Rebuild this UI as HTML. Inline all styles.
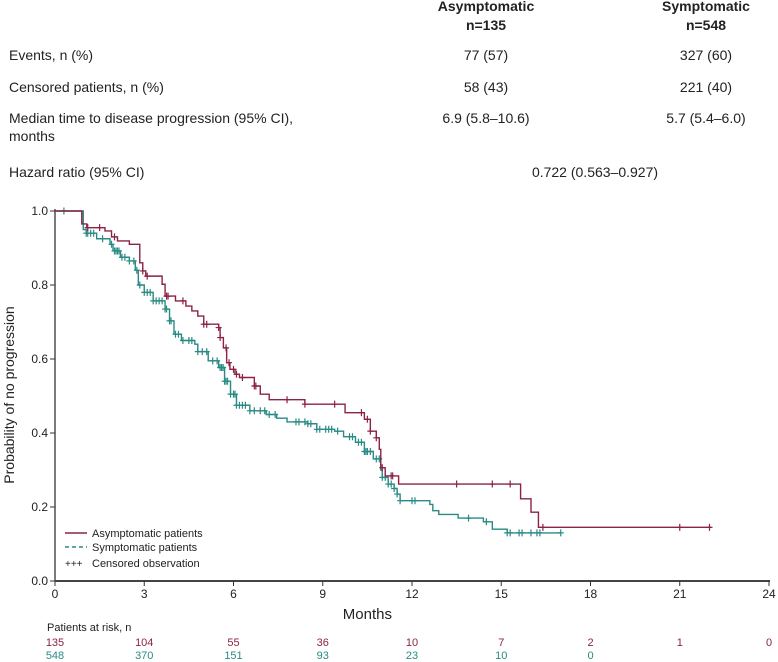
<!DOCTYPE html>
<html><head><meta charset="utf-8"><style>
body{margin:0;background:#fff;width:778px;height:662px;overflow:hidden;font-family:"Liberation Sans",sans-serif;}
svg{display:block}
</style></head><body>
<svg id="chart" width="778" height="662" xmlns="http://www.w3.org/2000/svg" font-family="Liberation Sans, sans-serif">
<g font-size="14" fill="#222">
<text x="486" y="11" text-anchor="middle" font-weight="bold">Asymptomatic</text>
<text x="486" y="30" text-anchor="middle" font-weight="bold">n=135</text>
<text x="706" y="11" text-anchor="middle" font-weight="bold">Symptomatic</text>
<text x="706" y="30" text-anchor="middle" font-weight="bold">n=548</text>
<text x="9" y="60">Events, n (%)</text>
<text x="486" y="60" text-anchor="middle">77 (57)</text>
<text x="706" y="60" text-anchor="middle">327 (60)</text>
<text x="9" y="92">Censored patients, n (%)</text>
<text x="486" y="92" text-anchor="middle">58 (43)</text>
<text x="706" y="92" text-anchor="middle">221 (40)</text>
<text x="9" y="123">Median time to disease progression (95% CI),</text>
<text x="9" y="141">months</text>
<text x="486" y="123" text-anchor="middle">6.9 (5.8–10.6)</text>
<text x="706" y="123" text-anchor="middle">5.7 (5.4–6.0)</text>
<text x="9" y="177">Hazard ratio (95% CI)</text>
<text x="595" y="177" text-anchor="middle">0.722 (0.563–0.927)</text>
</g>
<g id="axes"></g>
<g id="series"></g>
<g font-size="11" fill="#222">
<line x1="65" y1="533" x2="87" y2="533" stroke="#8b2346" stroke-width="1.5"/>
<text x="92" y="537">Asymptomatic patients</text>
<line x1="65" y1="547" x2="87" y2="547" stroke="#2a8a84" stroke-width="1.5" stroke-dasharray="4,3"/>
<text x="92" y="551">Symptomatic patients</text>
<text x="65" y="567" font-size="10">+++</text>
<text x="92" y="567">Censored observation</text>
</g>
<text x="205" y="619" font-size="15" fill="#222" text-anchor="middle" id="xtitle">Months</text>
<text transform="translate(14,395) rotate(-90)" font-size="14" fill="#222" text-anchor="middle">Probability of no progression</text>
<text x="47" y="631" font-size="11" fill="#222">Patients at risk, n</text>
<g id="risk" font-size="11"></g>
</svg>
<script>
const xTicks=[0,3,6,9,12,15,18,21,24];
const yTicks=[0,0.2,0.4,0.6,0.8,1.0];
const asymTimes=[0,0.9,1.07,1.68,1.9,2.1,2.5,2.85,2.95,3.05,3.6,3.7,4.05,4.4,4.6,4.8,5.0,5.5,5.55,5.66,5.77,5.88,6.05,6.2,6.7,6.9,7.2,8.4,9.75,10.4,10.6,10.8,10.9,10.95,11.1,11.55,15.65,16.0,16.25];
const asymSurv=[1,0.965,0.955,0.946,0.93,0.919,0.91,0.86,0.838,0.824,0.802,0.77,0.757,0.743,0.73,0.716,0.694,0.685,0.658,0.63,0.59,0.572,0.559,0.55,0.527,0.505,0.49,0.478,0.455,0.437,0.405,0.387,0.356,0.306,0.284,0.262,0.222,0.186,0.145];
const asymEnd=22.05;
const asymCensor=[1.1,1.5,2.0,2.95,3.1,3.75,3.8,4.3,5.0,5.1,5.5,5.55,5.75,5.85,6.0,6.1,6.3,6.7,6.75,7.8,8.4,9.4,10.3,10.5,10.6,10.8,11.0,11.3,11.35,13.5,14.7,15.3,16.4,21.0,22.0];
const symTimes=[0,0.95,1.05,1.4,1.85,1.95,2.2,2.5,2.7,2.8,3.0,3.3,3.7,3.85,4.0,4.25,4.7,4.8,5.15,5.5,5.7,5.9,6.1,6.55,7.1,7.45,7.8,8.5,8.8,9.4,9.7,10.1,10.4,10.7,10.95,11.0,11.2,11.4,11.5,11.6,12.6,12.7,12.9,13.55,14.4,14.7,15.2];
const symSurv=[1,0.95,0.94,0.925,0.91,0.892,0.875,0.865,0.84,0.80,0.78,0.757,0.735,0.703,0.667,0.65,0.64,0.62,0.595,0.577,0.54,0.505,0.475,0.46,0.45,0.44,0.43,0.425,0.41,0.405,0.39,0.375,0.35,0.33,0.3,0.28,0.262,0.25,0.235,0.217,0.207,0.19,0.18,0.17,0.16,0.14,0.13];
const symEnd=17.0;
const symCensor=[0.3,1.05,1.1,1.2,1.3,1.6,1.9,2.0,2.05,2.1,2.15,2.25,2.35,2.5,2.65,2.75,2.85,3.0,3.1,3.2,3.3,3.4,3.5,3.6,3.7,3.75,3.85,3.9,4.05,4.15,4.3,4.5,4.6,4.8,4.95,5.1,5.3,5.45,5.55,5.6,5.65,5.7,5.75,5.8,5.9,6.0,6.05,6.1,6.2,6.3,6.4,6.55,6.7,6.9,7.05,7.2,7.4,8.1,8.2,8.4,8.5,8.6,8.8,8.9,9.1,9.2,9.3,9.5,9.9,10.0,10.2,10.3,10.4,10.45,10.5,10.6,10.8,10.9,11.0,11.1,11.2,11.3,11.4,11.5,11.6,12.0,12.1,13.9,14.5,15.2,15.3,15.6,15.7,16.0,16.2,16.3,17.0];
const riskTimes=[0,3,6,9,12,15,18,21,24];
const riskAsym=[135,104,55,36,10,7,2,1,0];
const riskSym=[548,370,151,93,23,10,0];
const NS="http://www.w3.org/2000/svg";
const X0=55,XS=29.75,Y0=581,YS=370;
function sx(t){return X0+t*XS;}
function sy(p){return Y0-p*YS;}
function mk(tag,attrs,parent){const e=document.createElementNS(NS,tag);for(const k in attrs)e.setAttribute(k,attrs[k]);parent.appendChild(e);return e;}
const axes=document.getElementById('axes');
let l=mk('line',{x1:X0,y1:sy(1.0)-2,x2:X0,y2:Y0,stroke:'#333','stroke-width':1.3},axes);


l=mk('line',{x1:X0,y1:Y0,x2:sx(24)+1,y2:Y0,stroke:'#444','stroke-width':2},axes);


xTicks.forEach(t=>{
  const tk=mk('line',{x1:sx(t),y1:Y0,x2:sx(t),y2:Y0+5,stroke:'#333','stroke-width':1},axes);
  
  
  const tx=mk('text',{x:sx(t),y:Y0+17,'font-size':12,fill:'#222','text-anchor':'middle'},axes);
  tx.textContent=t;
  
  
});
yTicks.forEach(p=>{
  const tk=mk('line',{x1:X0-5,y1:sy(p),x2:X0,y2:sy(p),stroke:'#333','stroke-width':1},axes);
  
  
  const tx=mk('text',{x:X0-7,y:sy(p)+4,'font-size':12,fill:'#222','text-anchor':'end'},axes);
  tx.textContent=p.toFixed(1);
  
  
});
document.getElementById('xtitle').setAttribute('x',sx(10.5));
const series=document.getElementById('series');
function stepAt(times,surv,t){let v=surv[0];for(let i=0;i<times.length;i++){if(times[i]<=t)v=surv[i];}return v;}
function draw(times,surv,end,cens,color,name){
  let d='M'+sx(times[0])+','+sy(surv[0]);
  for(let i=1;i<times.length;i++){d+=' H'+sx(times[i])+' V'+sy(surv[i]);}
  d+=' H'+sx(end);
  const p=mk('path',{d:d,fill:'none',stroke:color,'stroke-width':1.4},series);
  
  
  cens.forEach(t=>{
    const y=sy(stepAt(times,surv,t)),x=sx(t);
    const c=mk('path',{d:`M${x-3},${y} H${x+3} M${x},${y-3.5} V${y+3.5}`,stroke:color,'stroke-width':1.2},series);
    
    
  });
}
draw(symTimes,symSurv,symEnd,symCensor,'#2a8a84','symptomatic');
draw(asymTimes,asymSurv,asymEnd,asymCensor,'#8b2346','asymptomatic');
const risk=document.getElementById('risk');
riskAsym.forEach((v,i)=>{
  const t=mk('text',{x:sx(riskTimes[i]),y:646,fill:'#8b2346','text-anchor':'middle'},risk);
  t.textContent=v;
  
  
});
riskSym.forEach((v,i)=>{
  const t=mk('text',{x:sx(riskTimes[i]),y:659,fill:'#2a8a84','text-anchor':'middle'},risk);
  t.textContent=v;
  
  
});
</script>
</body></html>
